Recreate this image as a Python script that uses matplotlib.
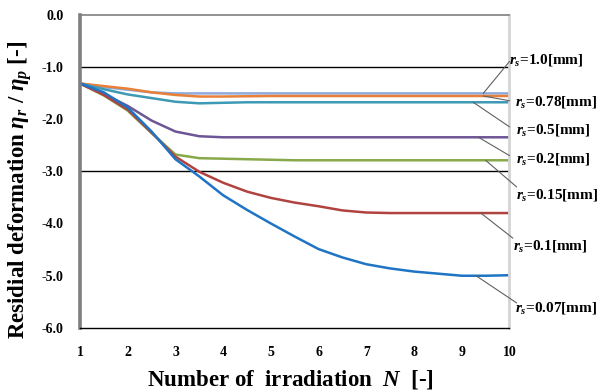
import numpy as np
import matplotlib
matplotlib.use("Agg")
import matplotlib.pyplot as plt

plt.rcParams['font.family'] = ['Liberation Serif', 'DejaVu Serif']
plt.rcParams['mathtext.fontset'] = 'custom'
plt.rcParams['mathtext.rm'] = 'Liberation Serif:bold'
plt.rcParams['mathtext.it'] = 'Liberation Serif:italic:bold'
plt.rcParams['mathtext.bf'] = 'Liberation Serif:bold'

# number of irradiation N (values every half step)
n = [1, 1.5, 2, 2.5, 3, 3.5, 4, 4.5, 5, 5.5, 6, 6.5, 7, 7.5, 8, 8.5, 9, 9.5, 10]

rs_10 = [-1.32, -1.39, -1.44, -1.49, -1.51, -1.51, -1.51, -1.51, -1.51, -1.51,
         -1.51, -1.51, -1.51, -1.51, -1.51, -1.51, -1.51, -1.51, -1.51]
rs_078 = [-1.32, -1.37, -1.42, -1.49, -1.54, -1.57, -1.57, -1.565, -1.56, -1.56,
          -1.56, -1.56, -1.56, -1.56, -1.56, -1.56, -1.56, -1.56, -1.56]
rs_05 = [-1.32, -1.43, -1.53, -1.60, -1.67, -1.70, -1.69, -1.68, -1.68, -1.68,
         -1.68, -1.68, -1.68, -1.68, -1.68, -1.68, -1.68, -1.68, -1.68]
rs_02 = [-1.32, -1.52, -1.75, -2.03, -2.24, -2.33, -2.35, -2.35, -2.35, -2.35,
         -2.35, -2.35, -2.35, -2.35, -2.35, -2.35, -2.35, -2.35, -2.35]
rs_015 = [-1.32, -1.55, -1.84, -2.27, -2.68, -2.75, -2.76, -2.77, -2.78, -2.79,
          -2.79, -2.79, -2.79, -2.79, -2.79, -2.79, -2.79, -2.79, -2.79]
rs_01 = [-1.32, -1.54, -1.82, -2.26, -2.72, -3.01, -3.22, -3.39, -3.51, -3.60,
         -3.67, -3.75, -3.79, -3.80, -3.80, -3.80, -3.80, -3.80, -3.80]
rs_007 = [-1.32, -1.49, -1.78, -2.24, -2.77, -3.10, -3.46, -3.74, -4.00, -4.25,
          -4.49, -4.65, -4.78, -4.86, -4.92, -4.96, -5.00, -5.00, -4.99]

labels = ['1.0', '0.78', '0.5', '0.2', '0.15', '0.1', '0.07']
series = [rs_10, rs_078, rs_05, rs_02, rs_015, rs_01, rs_007]
colors = ['#8eaadb', '#e8803a', '#3d9ab5', '#6e5596', '#88a94a', '#b0433f', '#1f74c4']
# where the leader line leaves the curve, and where the label sits
leader_x = [9.45, 9.45, 9.24, 9.35, 9.5, 9.4, 9.3]
label_pos = [(10.0, -0.90), (10.0, -1.65), (10.0, -2.15), (10.0, -2.70),
             (10.15, -3.30), (10.07, -4.28), (10.15, -5.52)]
text_pos = [(10.0, -0.88), (10.12, -1.68), (10.14, -2.22), (10.14, -2.77),
            (10.14, -3.45), (10.07, -4.44), (10.12, -5.61)]

fig = plt.figure(figsize=(6.02, 3.92), dpi=100)
ax = fig.add_axes([0.1329, 0.1633, 0.7134, 0.7997])

for ys, c in zip(series, colors):
    ax.plot(n, ys, color=c, lw=1.8, solid_capstyle='round', solid_joinstyle='round')

for y in [-1, -3]:
    ax.axhline(y, color='black', lw=1.0, zorder=0)

ax.set_xlim(1, 10)
ax.set_ylim(-6, 0)
ax.set_xticks(range(1, 11))
ax.set_yticks(np.arange(-6, 0.1, 1))
ax.set_yticklabels([f'{v:.1f}' for v in np.arange(-6, 0.1, 1)])
ax.tick_params(length=0, labelsize=10)
ax.tick_params(axis='x', pad=13)
ax.tick_params(axis='y', pad=12)
for lab in ax.get_xticklabels() + ax.get_yticklabels():
    lab.set_fontweight('bold')

ax.spines['left'].set_color('#7f7f7f')
ax.spines['left'].set_linewidth(2.6)
ax.spines['top'].set_color('#7f7f7f')
ax.spines['top'].set_linewidth(1.2)
ax.spines['right'].set_color('#d4d4d4')
ax.spines['right'].set_linewidth(2.0)
ax.spines['bottom'].set_color('black')
ax.spines['bottom'].set_linewidth(1.0)

for ys, lab, lx, lp, tp in zip(series, labels, leader_x, label_pos, text_pos):
    ly = np.interp(lx, n, ys)
    ax.annotate('', xy=(lx, ly), xytext=lp, annotation_clip=False,
                arrowprops=dict(arrowstyle='-', color='#606060', lw=0.8,
                                shrinkA=0, shrinkB=0))
    ax.text(tp[0], tp[1], r'$r_s$=' + lab + '[mm]', fontsize=11,
            fontweight='bold', va='center', ha='left', clip_on=False)

ax.set_ylabel(r'Residial deformation $\eta_r$ / $\eta_p$ [-]', fontsize=16.5,
              fontweight='bold', va='center')
ax.yaxis.set_label_coords(-0.14, 0.44)
ax.set_xlabel(r'Number of  irradiation  $N$  [-]', fontsize=16.5,
              fontweight='bold', va='center')
ax.xaxis.set_label_coords(0.49, -0.163)

plt.savefig('out.png', dpi=100)
